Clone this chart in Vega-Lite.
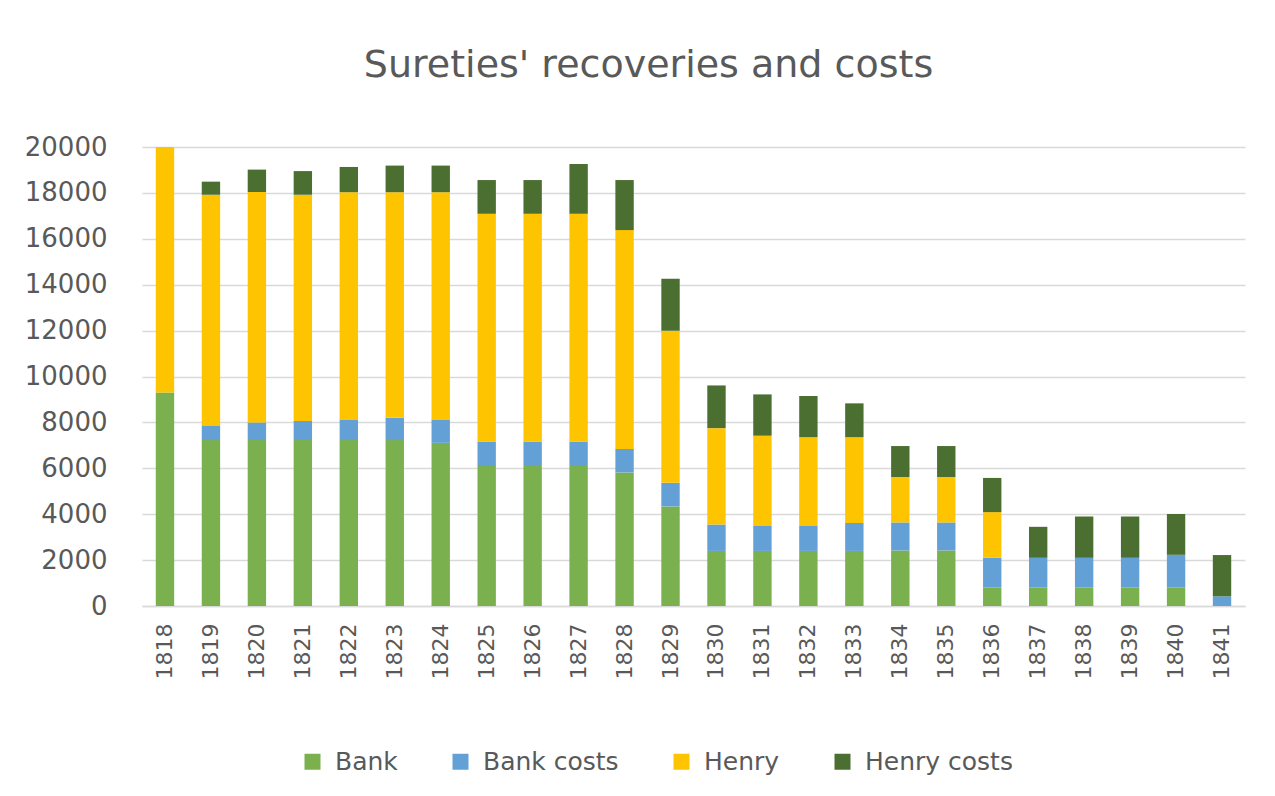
{
  "$schema": "https://vega.github.io/schema/vega-lite/v6.json",
  "autosize": {"type": "none"},
  "padding": {"left": 142, "top": 147, "right": 30, "bottom": 190},
  "width": 1103,
  "height": 459,
  "background": "white",
  "title": {
    "text": "Sureties' recoveries and costs",
    "font": "DejaVu Sans",
    "fontSize": 38,
    "fontWeight": "normal",
    "color": "#595959",
    "anchor": "middle",
    "dx": -45,
    "offset": 49
  },
  "data": {
    "values": [
      {"year": "1818", "Bank": 9300, "Bank costs": 0, "Henry": 10700, "Henry costs": 0},
      {"year": "1819", "Bank": 7230, "Bank costs": 640, "Henry": 10050, "Henry costs": 570},
      {"year": "1820", "Bank": 7230, "Bank costs": 770, "Henry": 10040, "Henry costs": 975},
      {"year": "1821", "Bank": 7230, "Bank costs": 830, "Henry": 9860, "Henry costs": 1030},
      {"year": "1822", "Bank": 7230, "Bank costs": 900, "Henry": 9900, "Henry costs": 1100},
      {"year": "1823", "Bank": 7230, "Bank costs": 970, "Henry": 9830, "Henry costs": 1160},
      {"year": "1824", "Bank": 7110, "Bank costs": 1020, "Henry": 9900, "Henry costs": 1160},
      {"year": "1825", "Bank": 6140, "Bank costs": 1020, "Henry": 9930, "Henry costs": 1470},
      {"year": "1826", "Bank": 6140, "Bank costs": 1020, "Henry": 9930, "Henry costs": 1470},
      {"year": "1827", "Bank": 6140, "Bank costs": 1020, "Henry": 9930, "Henry costs": 2170},
      {"year": "1828", "Bank": 5820, "Bank costs": 1020, "Henry": 9540, "Henry costs": 2180},
      {"year": "1829", "Bank": 4340, "Bank costs": 1030, "Henry": 6620, "Henry costs": 2270},
      {"year": "1830", "Bank": 2400, "Bank costs": 1150, "Henry": 4200, "Henry costs": 1860},
      {"year": "1831", "Bank": 2400, "Bank costs": 1090, "Henry": 3930, "Henry costs": 1800},
      {"year": "1832", "Bank": 2400, "Bank costs": 1090, "Henry": 3870, "Henry costs": 1790},
      {"year": "1833", "Bank": 2400, "Bank costs": 1220, "Henry": 3740, "Henry costs": 1470},
      {"year": "1834", "Bank": 2420, "Bank costs": 1220, "Henry": 1980, "Henry costs": 1350},
      {"year": "1835", "Bank": 2420, "Bank costs": 1220, "Henry": 1980, "Henry costs": 1350},
      {"year": "1836", "Bank": 810, "Bank costs": 1290, "Henry": 1990, "Henry costs": 1490},
      {"year": "1837", "Bank": 810, "Bank costs": 1290, "Henry": 0, "Henry costs": 1350},
      {"year": "1838", "Bank": 810, "Bank costs": 1290, "Henry": 0, "Henry costs": 1800},
      {"year": "1839", "Bank": 810, "Bank costs": 1290, "Henry": 0, "Henry costs": 1800},
      {"year": "1840", "Bank": 810, "Bank costs": 1420, "Henry": 0, "Henry costs": 1780},
      {"year": "1841", "Bank": 0, "Bank costs": 420, "Henry": 0, "Henry costs": 1800}
    ]
  },
  "transform": [
    {"fold": ["Bank", "Bank costs", "Henry", "Henry costs"], "as": ["series", "amount"]}
  ],
  "mark": {"type": "bar"},
  "encoding": {
    "x": {
      "field": "year",
      "type": "nominal",
      "sort": null,
      "scale": {"paddingInner": 0.6, "paddingOuter": 0.3},
      "axis": {
        "title": null,
        "labelAngle": -90,
        "labelFont": "DejaVu Sans",
        "labelFontSize": 22,
        "labelColor": "#595959",
        "labelPadding": 17,
        "ticks": false,
        "domainColor": "#d9d9d9",
        "domainWidth": 1.5
      }
    },
    "y": {
      "field": "amount",
      "type": "quantitative",
      "stack": "zero",
      "scale": {"domain": [0, 20000], "nice": false},
      "axis": {
        "title": null,
        "values": [0, 2000, 4000, 6000, 8000, 10000, 12000, 14000, 16000, 18000, 20000],
        "format": "d",
        "labelFont": "DejaVu Sans",
        "labelFontSize": 26,
        "labelColor": "#595959",
        "labelPadding": 35,
        "ticks": false,
        "domain": false,
        "gridColor": "#d9d9d9",
        "gridWidth": 1.5
      }
    },
    "color": {
      "field": "series",
      "type": "nominal",
      "scale": {
        "domain": ["Bank", "Bank costs", "Henry", "Henry costs"],
        "range": ["#7AB04E", "#63A0D6", "#FFC400", "#4B6E31"]
      },
      "legend": {
        "title": null,
        "orient": "none",
        "direction": "horizontal",
        "legendX": 158,
        "legendY": 602,
        "symbolType": "square",
        "symbolSize": 256,
        "symbolStrokeWidth": 0,
        "labelFont": "DejaVu Sans",
        "labelFontSize": 25,
        "labelColor": "#595959",
        "columnPadding": 50,
        "labelOffset": 10
      }
    },
    "order": {"field": "series", "sort": "ascending"}
  },
  "config": {
    "view": {"stroke": null}
  }
}
